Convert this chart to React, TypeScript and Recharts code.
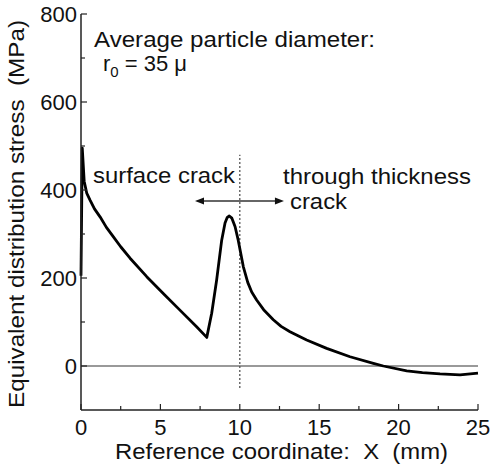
import React from 'react';
import {
  LineChart,
  Line,
  XAxis,
  YAxis,
  ReferenceLine,
} from 'recharts';

// values
const xPos = [
  0, 0.08, 0.2, 0.36, 0.57, 0.85, 1.2, 1.6, 2.03, 2.5, 3.09, 4.14, 5.18, 6.23, 7.28, 7.92,
  8.23, 8.54, 8.86, 9.07, 9.2, 9.34, 9.5, 9.7, 9.9, 10.22, 10.5, 10.75, 11.06, 11.5, 12.11,
  12.6, 13.16, 13.7, 14.21, 15.47, 16.94, 18.41, 19.04, 20.51, 21.5, 22.61, 23.87, 25,
];
const stress = [
  205, 495, 420, 393, 377, 357, 339, 315, 294, 271, 245, 203, 165, 127, 89, 65,
  120, 195, 286, 325, 337, 341, 336, 317, 286, 226, 190, 168, 150, 128, 105,
  90, 78, 68, 59, 40, 21, 6, 0, -11, -15, -18, -20, -16,
];

const xTicks = [0, 2.5, 5, 7.5, 10, 12.5, 15, 17.5, 20, 22.5, 25];
const yTicks = [0, 100, 200, 300, 400, 500, 600, 700, 800];

const FONT = '"Liberation Sans", Arial, sans-serif';
const AXIS = '#222';
const NB = '\u00a0';

const data = xPos.map((x, i) => ({ x, s: stress[i] }));

const XTick = (props: any) => {
  const { x, y, payload } = props;
  const major = payload.value % 5 === 0;
  return (
    <g>
      <line x1={x} x2={x} y1={y} y2={y - (major ? 6 : 4)} stroke={AXIS} strokeWidth={1.2} />
      {major && (
        <text x={x} y={y + 25} textAnchor="middle" fontSize={22} fontFamily={FONT} fill="#111">
          {payload.value}
        </text>
      )}
    </g>
  );
};

const YTick = (props: any) => {
  const { x, y, payload } = props;
  const major = payload.value % 200 === 0;
  return (
    <g>
      <line x1={x} x2={x + (major ? 6 : 4)} y1={y} y2={y} stroke={AXIS} strokeWidth={1.2} />
      {major && (
        <text x={x - 4} y={y + 8} textAnchor="end" fontSize={22} fontFamily={FONT} fill="#111">
          {payload.value}
        </text>
      )}
    </g>
  );
};

const DoubleArrow = (props: any) => {
  const { x1, x2, y1 } = props;
  return (
    <g>
      <line x1={x1 + 6} x2={x2 - 6} y1={y1} y2={y1} stroke="#333" strokeWidth={1.5} />
      <polygon points={`${x1},${y1} ${x1 + 9},${y1 - 3.5} ${x1 + 9},${y1 + 3.5}`} fill="#111" />
      <polygon points={`${x2},${y1} ${x2 - 9},${y1 - 3.5} ${x2 - 9},${y1 + 3.5}`} fill="#111" />
    </g>
  );
};

export default function App() {
  return (
    <div style={{ position: 'absolute', left: 0, top: 0, width: 493, height: 472, background: '#fff' }}>
      <LineChart
        width={493}
        height={472}
        data={data}
        margin={{ top: 14, right: 15, left: 0, bottom: 0 }}
      >
        <XAxis
          dataKey="x"
          type="number"
          domain={[0, 25]}
          ticks={xTicks}
          interval={0}
          height={62}
          tickSize={0}
          tickMargin={0}
          tickLine={false}
          tick={<XTick />}
          axisLine={{ stroke: AXIS, strokeWidth: 1.5 }}
        />
        <XAxis
          xAxisId="top"
          orientation="top"
          type="number"
          domain={[0, 25]}
          height={0}
          tick={false}
          tickLine={false}
          axisLine={{ stroke: AXIS, strokeWidth: 1.5 }}
        />
        <YAxis
          type="number"
          domain={[-100, 800]}
          ticks={yTicks}
          interval={0}
          width={81}
          tickSize={0}
          tickMargin={0}
          tickLine={false}
          tick={<YTick />}
          axisLine={{ stroke: AXIS, strokeWidth: 1.5 }}
        />
        <YAxis
          yAxisId="right"
          orientation="right"
          type="number"
          domain={[-100, 800]}
          width={0}
          tick={false}
          tickLine={false}
          axisLine={{ stroke: AXIS, strokeWidth: 1.5 }}
        />
        <ReferenceLine y={0} stroke="#777" strokeWidth={1.5} />
        <ReferenceLine
          segment={[{ x: 10, y: -50 }, { x: 10, y: 480 }]}
          stroke="#555"
          strokeWidth={1.3}
          strokeDasharray="2 2"
        />
        <ReferenceLine
          segment={[{ x: 7.18, y: 375 }, { x: 12.78, y: 375 }]}
          shape={<DoubleArrow />}
        />
        <Line
          dataKey="s"
          type="linear"
          stroke="#000"
          strokeWidth={2.8}
          strokeLinejoin="round"
          dot={false}
          isAnimationActive={false}
        />
      </LineChart>
      <svg
        width={493}
        height={472}
        style={{ position: 'absolute', left: 0, top: 0, pointerEvents: 'none' }}
        fontFamily={FONT}
        fontSize={22}
        fill="#111"
      >
        <text x={94} y={47} textLength={281} lengthAdjust="spacingAndGlyphs">
          Average particle diameter:
        </text>
        <text x={103} y={71}>
          r<tspan fontSize={15} dy={6}>0</tspan>
          <tspan dy={-6}> = 35 μ</tspan>
        </text>
        <text x={93} y={183} textLength={142} lengthAdjust="spacingAndGlyphs">surface crack</text>
        <text x={283} y={184} textLength={188} lengthAdjust="spacingAndGlyphs">through thickness</text>
        <text x={290} y={209} textLength={57} lengthAdjust="spacingAndGlyphs">crack</text>
        <text x={115} y={459} textLength={333} lengthAdjust="spacingAndGlyphs">
          {`Reference coordinate:${NB}${NB}X${NB}${NB}(mm)`}
        </text>
        <text
          x={20}
          y={24}
          textLength={388}
          lengthAdjust="spacingAndGlyphs"
          transform="rotate(-90 214 214)"
        >
          {`Equivalent distribution stress${NB}${NB}(MPa)`}
        </text>
      </svg>
    </div>
  );
}
